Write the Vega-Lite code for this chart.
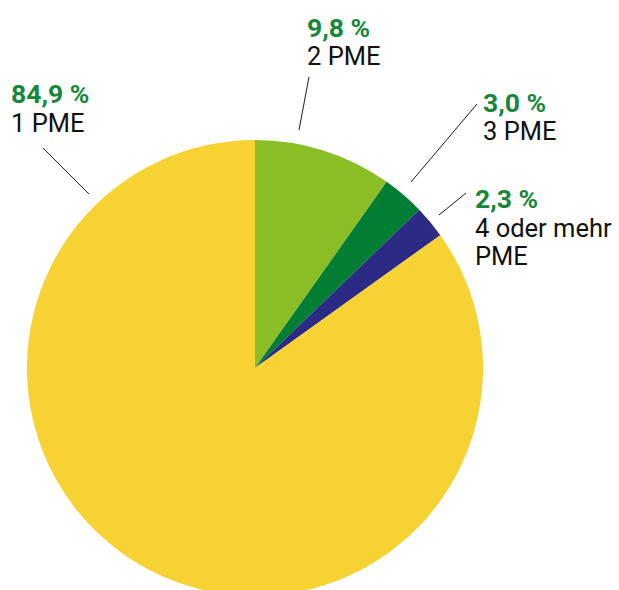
{
  "$schema": "https://vega.github.io/schema/vega-lite/v6.json",
  "width": 619,
  "height": 590,
  "autosize": "none",
  "padding": 0,
  "background": "white",
  "config": {"view": {"stroke": null}},
  "data": {
    "values": [
      {"kategorie": "2 PME", "prozent": 9.8, "prozent_text": "9,8 %", "reihenfolge": 1, "lx": 0.2281, "ly_pct": 1.4518, "ly_kat": 1.3289, "x1": 0.2368, "y1": 1.2763, "x2": 0.1930, "y2": 1.0439},
      {"kategorie": "3 PME", "prozent": 3.0, "prozent_text": "3,0 %", "reihenfolge": 2, "lx": 1.0, "ly_pct": 1.1228, "ly_kat": 1.0, "x1": 0.9737, "y1": 1.1579, "x2": 0.6842, "y2": 0.8158},
      {"kategorie": "4 oder mehr\nPME", "prozent": 2.3, "prozent_text": "2,3 %", "reihenfolge": 3, "lx": 0.9649, "ly_pct": 0.7018, "ly_kat": 0.5746, "x1": 0.9254, "y1": 0.7675, "x2": 0.8070, "y2": 0.6711},
      {"kategorie": "1 PME", "prozent": 84.9, "prozent_text": "84,9 %", "reihenfolge": 4, "lx": -1.0702, "ly_pct": 1.1623, "ly_kat": 1.0351, "x1": -0.9298, "y1": 0.9649, "x2": -0.7281, "y2": 0.7632}
    ]
  },
  "layer": [
    {
      "mark": {"type": "arc", "outerRadius": 228},
      "encoding": {
        "theta": {"field": "prozent", "type": "quantitative", "stack": true},
        "order": {"field": "reihenfolge", "type": "quantitative"},
        "color": {
          "field": "kategorie",
          "type": "nominal",
          "scale": {
            "domain": ["2 PME", "3 PME", "4 oder mehr\nPME", "1 PME"],
            "range": ["#8BBD25", "#017D34", "#2B2A84", "#F6D332"]
          },
          "legend": null
        },
        "x": {"datum": 0, "type": "quantitative", "scale": {"domain": [-1.1184, 1.5965], "nice": false, "zero": false}, "axis": null},
        "y": {"datum": 0, "type": "quantitative", "scale": {"domain": [-0.9737, 1.6140], "nice": false, "zero": false}, "axis": null}
      }
    },
    {
      "mark": {"type": "rule", "stroke": "#1a1a1a", "strokeWidth": 1},
      "encoding": {
        "x": {"field": "x1", "type": "quantitative", "scale": {"domain": [-1.1184, 1.5965], "nice": false, "zero": false}, "axis": null},
        "y": {"field": "y1", "type": "quantitative", "scale": {"domain": [-0.9737, 1.6140], "nice": false, "zero": false}, "axis": null},
        "x2": {"field": "x2"},
        "y2": {"field": "y2"}
      }
    },
    {
      "mark": {"type": "text", "align": "left", "baseline": "alphabetic", "font": "Roboto", "fontSize": 26.5, "fontWeight": "bold", "color": "#16873A"},
      "encoding": {
        "x": {"field": "lx", "type": "quantitative", "scale": {"domain": [-1.1184, 1.5965], "nice": false, "zero": false}, "axis": null},
        "y": {"field": "ly_pct", "type": "quantitative", "scale": {"domain": [-0.9737, 1.6140], "nice": false, "zero": false}, "axis": null},
        "text": {"field": "prozent_text"}
      }
    },
    {
      "mark": {"type": "text", "align": "left", "baseline": "alphabetic", "font": "Roboto", "fontSize": 25.5, "color": "#111111", "lineBreak": "\n", "lineHeight": 28},
      "encoding": {
        "x": {"field": "lx", "type": "quantitative", "scale": {"domain": [-1.1184, 1.5965], "nice": false, "zero": false}, "axis": null},
        "y": {"field": "ly_kat", "type": "quantitative", "scale": {"domain": [-0.9737, 1.6140], "nice": false, "zero": false}, "axis": null},
        "text": {"field": "kategorie"}
      }
    }
  ]
}
